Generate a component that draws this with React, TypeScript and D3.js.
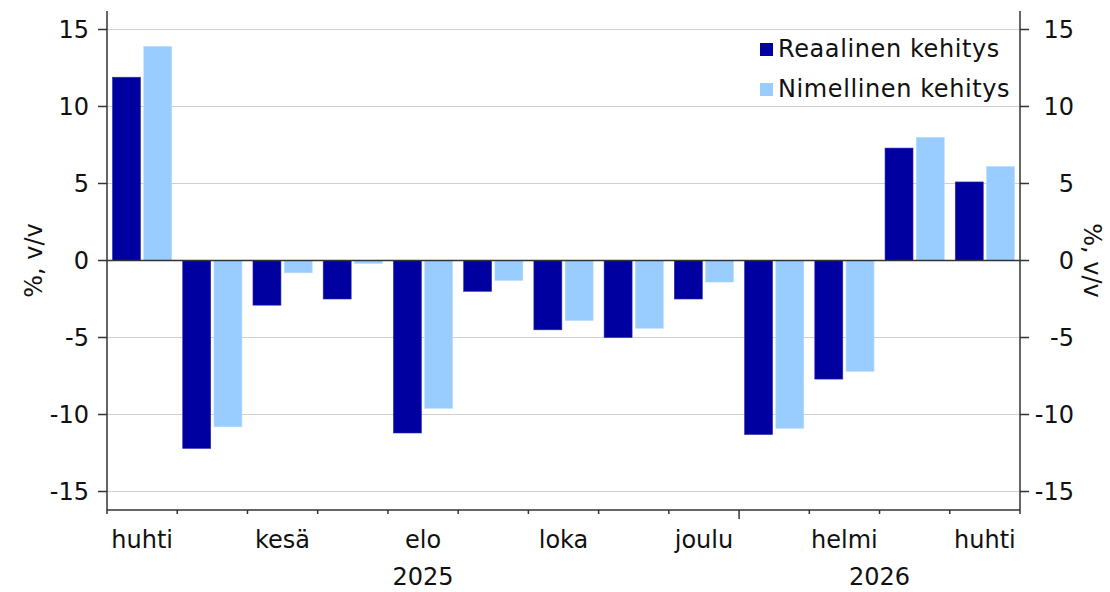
import React from "react";
import * as d3 from "d3";

const months = ["2025-04","2025-05","2025-06","2025-07","2025-08","2025-09","2025-10","2025-11","2025-12","2026-01","2026-02","2026-03","2026-04"];
const monthLabels = ["huhti","","kesä","","elo","","loka","","joulu","","helmi","","huhti"];
const seriesNames = ["Reaalinen kehitys","Nimellinen kehitys"];
const reaalinen = [11.9,-12.2,-2.9,-2.5,-11.2,-2.0,-4.5,-5.0,-2.5,-11.3,-7.7,7.3,5.1];
const nimellinen = [13.9,-10.8,-0.8,-0.2,-9.6,-1.3,-3.9,-4.4,-1.4,-10.9,-7.2,8.0,6.1];
const yTicks = [-15,-10,-5,0,5,10,15];
const years = [{label:"2025", from:0, to:8},{label:"2026", from:9, to:12}];
const colors = ["#0000A0","#99CCFF"];

const W = 1110, H = 592;
const L = 107, R = 1020, T = 11, B = 510;
const FONT = "'DejaVu Sans', sans-serif";

export default function App() {
  const x = d3.scaleBand<string>().domain(months).range([L, R]).padding(0);
  const x1 = d3.scaleBand<string>().domain(seriesNames).range([0, x.bandwidth()]).paddingInner(0.105).paddingOuter(0.176);
  const y = d3.scaleLinear().domain([-16.2, 16.2]).range([B, T]);
  const data = [reaalinen, nimellinen];
  const fs = 24;
  return (
    <svg width={W} height={H} style={{position:"absolute", left:0, top:0, background:"#fff"}} fontFamily={FONT}>
      <rect x={0} y={0} width={W} height={H} fill="#fff" />
      {yTicks.filter(t => t !== 0).map(t => (
        <line key={"g"+t} x1={L} x2={R} y1={y(t)} y2={y(t)} stroke="#d0d0d0" strokeWidth={1} />
      ))}
      {months.map((m, i) => data.map((s, si) => {
        const v = s[i];
        const bx = (x(m) as number) + (x1(seriesNames[si]) as number);
        return <rect key={m+si} x={bx} width={x1.bandwidth()} y={Math.min(y(v), y(0))} height={Math.abs(y(v)-y(0))} fill={colors[si]} stroke={si===0?"#2a2ab0":"#b8dcff"} strokeWidth={0.6} />;
      }))}
      <line x1={L} x2={R} y1={y(0)} y2={y(0)} stroke="#333" strokeWidth={1.5} />
      <line x1={L} x2={L} y1={T} y2={B} stroke="#333" strokeWidth={1.5} />
      <line x1={R} x2={R} y1={T} y2={B} stroke="#333" strokeWidth={1.5} />
      <line x1={L} x2={R} y1={B} y2={B} stroke="#333" strokeWidth={1.5} />
      {yTicks.map(t => (
        <g key={"t"+t}>
          <line x1={L-9} x2={L} y1={y(t)} y2={y(t)} stroke="#333" strokeWidth={1.5} />
          <line x1={R} x2={R+9} y1={y(t)} y2={y(t)} stroke="#333" strokeWidth={1.5} />
          <text x={89} y={y(t)} dy="0.36em" textAnchor="end" fontSize={fs} fill="#111">{String(t)}</text>
          <text x={1074} y={y(t)} dy="0.36em" textAnchor="end" fontSize={fs} fill="#111">{String(t)}</text>
        </g>
      ))}
      {months.concat(["end"]).map((m, i) => {
        const px = L + i * x.step();
        const isYear = i === 9;
        return <line key={"xt"+i} x1={px} x2={px} y1={B} y2={B + (isYear ? 9 : 4)} stroke="#333" strokeWidth={1.5} />;
      })}
      {months.map((m, i) => monthLabels[i] ? (
        <text key={"ml"+i} x={(x(m) as number) + x.bandwidth()/2} y={548} textAnchor="middle" fontSize={fs} fill="#111">{monthLabels[i]}</text>
      ) : null)}
      {years.map(yr => {
        const cx = ((x(months[yr.from]) as number) + (x(months[yr.to]) as number) + x.bandwidth()) / 2;
        return <text key={yr.label} x={cx} y={585} textAnchor="middle" fontSize={fs} fill="#111">{yr.label}</text>;
      })}
      <text transform={`translate(42,${y(0)}) rotate(-90)`} textAnchor="middle" fontSize={fs} fill="#111">%, v/v</text>
      <text transform={`translate(1084,${y(0)}) rotate(90)`} textAnchor="middle" fontSize={fs} fill="#111">%, v/v</text>
      {seriesNames.map((s, i) => (
        <g key={"lg"+s}>
          <rect x={760} y={43 + i*40} width={13} height={13} fill={colors[i]} />
          <text x={778} y={57 + i*40} fontSize={fs} letterSpacing={0.6} fill="#111">{s}</text>
        </g>
      ))}
    </svg>
  );
}
